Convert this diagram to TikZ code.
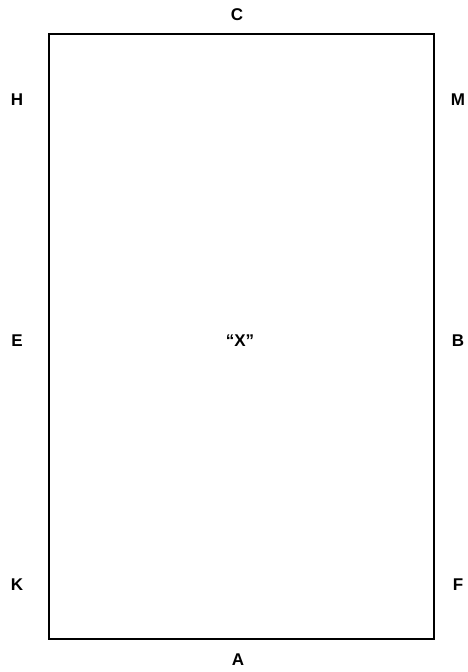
\documentclass[tikz,border=0pt]{standalone}
\usepackage{fontspec}
\setmainfont{Liberation Sans}
\begin{document}
\begin{tikzpicture}[x=1pt,y=-1pt,
  lbl/.style={font=\fontsize{17}{17}\selectfont\bfseries, inner sep=0pt},
  box/.style={draw=black, line width=1.8pt}]
\useasboundingbox (0,0) rectangle (468,672);
\node[box, minimum width=385pt, minimum height=605pt, inner sep=0pt, anchor=north west] (r) at (48,33) {};
\node[lbl] (c) at (237,15) {C};
\node[lbl] (h) at (17,100) {H};
\node[lbl] (m) at (458,100) {M};
\node[lbl] (e) at (17,341) {E};
\node[lbl] (b) at (458,341) {B};
\node[lbl] (x) at (240,341) {``X''};
\node[lbl] (k) at (17,585) {K};
\node[lbl] (f) at (458,585) {F};
\node[lbl] (a) at (238,660) {A};
\end{tikzpicture}
\end{document}
